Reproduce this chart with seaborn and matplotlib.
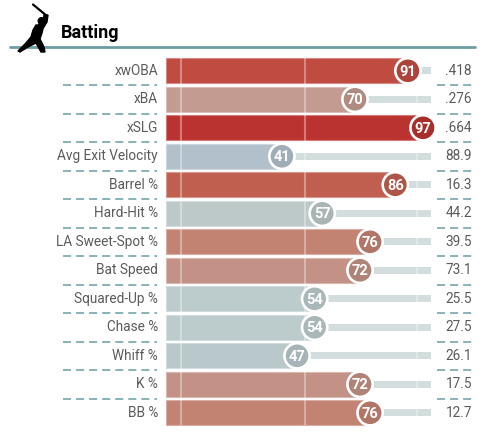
import numpy as np
import matplotlib
matplotlib.use("Agg")
import matplotlib.pyplot as plt
import matplotlib.colors as mcolors
from matplotlib.patches import Polygon, Circle
import seaborn as sns
import pandas as pd

# Datos del grafico
metricas = ["xwOBA", "xBA", "xSLG", "Avg Exit Velocity", "Barrel %", "Hard-Hit %",
            "LA Sweet-Spot %", "Bat Speed", "Squared-Up %", "Chase %", "Whiff %", "K %", "BB %"]
percentiles = [91, 70, 97, 41, 86, 57, 76, 72, 54, 54, 47, 72, 76]
valores = [".418", ".276", ".664", "88.9", "16.3", "44.2", "39.5", "73.1",
           "25.5", "27.5", "26.1", "17.5", "12.7"]
colores = ["#bf4b41", "#c49b90", "#bb3330", "#b1c0ca", "#c05f50", "#bcc9c8", "#c38373",
           "#c39186", "#bccbcc", "#bccbcc", "#b8c8cb", "#c39186", "#c38373"]
titulo = "Batting"

df = pd.DataFrame({"metrica": metricas, "pct": percentiles, "valor": valores, "color": colores})
df["fila"] = np.arange(len(df))

sns.set_theme(style="white")
plt.rcParams["font.family"] = ["Roboto", "DejaVu Sans"]
plt.rcParams["lines.scale_dashes"] = False

W, H = 492, 432
fig = plt.figure(figsize=(W / 100, H / 100), dpi=100)
ax = fig.add_axes([0, 0, 1, 1])

# escala: percentil -> pixel
x0, k = 178.6, 2.52
y0, paso = 70.8, 28.5
ax.set_xlim(-x0 / k, (W - x0) / k)
ax.set_ylim((H - y0) / paso, -y0 / paso)
ax.axis("off")

teal = "#6b9ea3"
gris_txt = "#5b5b5b"
alto = 25 / paso


def oscurecer(c, f=0.9):
    r, g, b = mcolors.to_rgb(c)
    return (r * f, g * f, b * f)


def aclarar(c, f=0.35):
    r, g, b = mcolors.to_rgb(c)
    return (r + (1 - r) * f, g + (1 - g) * f, b + (1 - b) * f)


# barras
for _, r in df.iterrows():
    ax.barh(r["fila"], r["pct"] + 5, left=-5, height=alto, color=r["color"],
            edgecolor=aclarar(r["color"]), linewidth=0.8, zorder=2)
    ax.barh(r["fila"], 100 - r["pct"], left=r["pct"], height=7 / paso,
            color="#d3dddd", linewidth=0, zorder=1)

# lineas verticales de referencia
for xv in [1, 50, 94.5]:
    ax.vlines(xv, -alto / 2, len(df) - 1 + alto / 2, color="white", alpha=0.35,
              linewidth=1.5, zorder=3)

# circulos
sns.scatterplot(data=df, x="pct", y="fila", hue="metrica",
                palette=[oscurecer(c) for c in colores], s=330,
                edgecolor="white", linewidth=1.9, legend=False, zorder=4, ax=ax)
for _, r in df.iterrows():
    ax.text(r["pct"], r["fila"] + 0.03, str(r["pct"]), ha="center", va="center",
            color="white", fontsize=10.5, fontweight="bold", zorder=5)

# etiquetas y valores
for _, r in df.iterrows():
    ax.text(-8.2, r["fila"], r["metrica"], ha="right", va="center",
            fontsize=9.8, color=gris_txt)
    ax.text(116.4, r["fila"], r["valor"], ha="right", va="center",
            fontsize=9.8, color=gris_txt)
    if r["fila"] < len(df) - 1:
        yd = r["fila"] + 0.5
        ax.plot([-46, -8.6], [yd, yd], color=teal, linewidth=1.1,
                linestyle=(0, (5.8, 3.6)), zorder=1)
        ax.plot([102.5, 117.6], [yd, yd], color=teal, linewidth=1.1,
                linestyle=(0, (5.8, 3.6)), zorder=1)

# encabezado
ax.text(-46.7, -1.33, titulo, ha="left", va="center", fontsize=13,
        fontweight="bold", color="black")
ax.plot([-66.9, 117.6], [-0.845, -0.845], color=teal, linewidth=2, zorder=1)

# silueta del bateador (icono)
ic = fig.add_axes([0, 1 - 60 / H, 60 / W, 60 / H])
ic.set_xlim(0, 60)
ic.set_ylim(60, 0)
ic.axis("off")
ic.plot([33, 47], [4.5, 16], color="black", linewidth=1.6, solid_capstyle="round")
ic.add_patch(Circle((41.5, 21), 3.3, color="black"))
ic.add_patch(Polygon([(44, 15), (48, 15), (47, 22), (44, 27), (38, 27), (39, 24), (43, 22)],
                     closed=True, color="black"))
ic.add_patch(Polygon([(36, 25), (44, 25), (42, 33), (40, 39), (44, 47), (45, 52), (41, 52),
                      (36, 43), (28, 47), (20, 52), (18, 51), (25, 44), (31, 37), (33, 30)],
                     closed=True, color="black"))

fig.savefig("out.png", dpi=100)
